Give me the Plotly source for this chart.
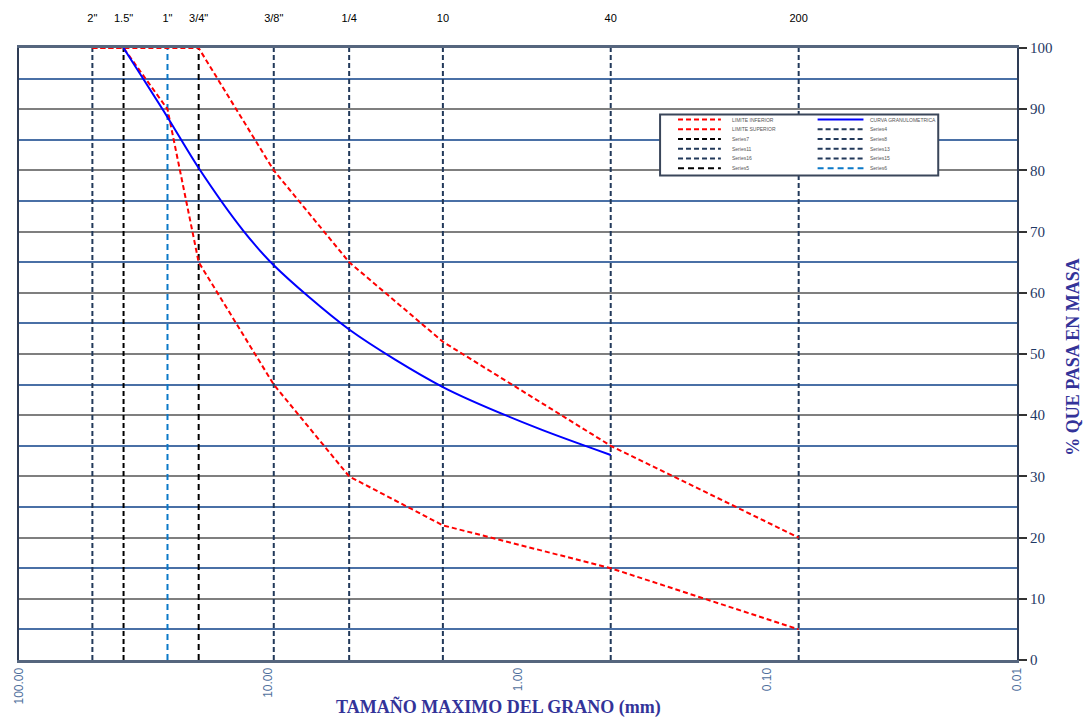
import plotly.graph_objects as go

# ---------------- data ----------------
sieve_labels = ['2"', '1.5"', '1"', '3/4"', '3/8"', '1/4', '10', '40', '200']
sieve_mm = [50.8, 38.1, 25.4, 19.05, 9.525, 4.75, 2.0, 0.425, 0.075]
sieve_series = ['Series4', 'Series7', 'Series6', 'Series5', 'Series8',
                'Series11', 'Series13', 'Series15', 'Series16']

limit_mm = [50.8, 38.1, 25.4, 19.05, 9.525, 4.75, 2.0, 0.425, 0.075]
lim_inf_pct = [100, 100, 90, 65, 45, 30, 22, 15, 5]
lim_sup_pct = [100, 100, 100, 100, 80, 65, 52, 35, 20]

curva_mm = [38.1, 25.4, 19.05, 12.7, 9.525, 4.75, 2.0, 0.85, 0.425]
curva_pct = [100, 88.7, 80.4, 70.3, 64.5, 54.0, 44.6, 38.0, 33.5]

x_tickvals = [100, 10, 1, 0.1, 0.01]
x_ticktext = ["100.00", "10.00", "1.00", "0.10", "0.01"]

# ---------------- styles ----------------
NAVY = "#22395A"
RED = "#FF0000"
sieve_colors = {'Series4': NAVY, 'Series7': "#000000", 'Series6': "#0A78C8",
                'Series5': "#000000", 'Series8': NAVY, 'Series11': NAVY,
                'Series13': NAVY, 'Series15': NAVY, 'Series16': NAVY}
sieve_dash = {'Series5': "6px,4px", 'Series7': "5px,3px", 'Series6': "6px,4px"}

fig = go.Figure()

# vertical sieve lines
for mm, name in zip(sieve_mm, sieve_series):
    fig.add_trace(go.Scatter(
        x=[mm, mm], y=[0, 100], mode="lines", name=name,
        line=dict(color=sieve_colors[name], width=2,
                  dash=sieve_dash.get(name, "5px,3px")),
        showlegend=False, hoverinfo="skip"))

fig.add_trace(go.Scatter(x=limit_mm, y=lim_inf_pct, mode="lines", name="LIMITE INFERIOR",
                         line=dict(color=RED, width=2, dash="5px,3px"), showlegend=False))
fig.add_trace(go.Scatter(x=limit_mm, y=lim_sup_pct, mode="lines", name="LIMITE SUPERIOR",
                         line=dict(color=RED, width=2, dash="5px,3px"), showlegend=False))
fig.add_trace(go.Scatter(x=curva_mm, y=curva_pct, mode="lines", name="CURVA GRANULOMETRICA",
                         line=dict(color="#0000FF", width=2, shape="spline", smoothing=0.8),
                         showlegend=False))

# top sieve labels axis (dummy invisible trace on x2)
fig.add_trace(go.Scatter(x=[sieve_mm[0]], y=[None], xaxis="x2", mode="lines",
                         showlegend=False, hoverinfo="skip"))

# ---------------- layout ----------------
L, R, T, B = 16, 72, 48, 62
W, H = 1089, 722
pw, ph = W - L - R, H - T - B

fig.update_layout(
    width=W, height=H,
    margin=dict(l=L, r=R, t=T, b=B, pad=0),
    paper_bgcolor="white", plot_bgcolor="white",
    showlegend=False,
    xaxis=dict(type="log", range=[2, -2], tickmode="array",
               tickvals=x_tickvals, ticktext=x_ticktext, tickangle=-90,
               tickfont=dict(family="Liberation Sans, Arial", size=12, color="#4F6F9C"),
               showgrid=False, zeroline=False, ticks="",
               showline=True, linecolor="#56667E", linewidth=3, mirror=True),
    xaxis2=dict(type="log", range=[2, -2], overlaying="x", side="top", anchor="y",
                tickmode="array", tickvals=sieve_mm, ticktext=sieve_labels,
                tickfont=dict(family="Liberation Sans, Arial", size=11, color="#000000"),
                ticklabelstandoff=23, ticks="", showgrid=False, showline=False,
                zeroline=False),
    yaxis=dict(range=[0, 100], side="right", dtick=10, tick0=0,
               tickfont=dict(family="Liberation Serif, Times New Roman", size=15, color="#1F3864"),
               ticks="outside", ticklen=8, tickwidth=1.5, tickcolor="#333333",
               showgrid=True, gridcolor="#7F7F7F", gridwidth=1.5,
               minor=dict(dtick=5, tick0=0, showgrid=True, gridcolor="#4A70A6",
                          gridwidth=2, ticks=""),
               zeroline=False,
               showline=True, linecolor="#2E3C55", linewidth=2, mirror=True),
)

# axis titles
fig.add_annotation(text="<b>TAMAÑO MAXIMO DEL GRANO (mm)</b>", xref="paper", yref="paper",
                   x=(497 - L) / pw, y=-(707 - (T + ph)) / ph, showarrow=False,
                   xanchor="center", yanchor="middle",
                   font=dict(family="Liberation Serif, Times New Roman", size=18, color="#333399"))
fig.add_annotation(text="<b>% QUE PASA EN MASA</b>", xref="paper", yref="paper",
                   x=1 + (1073 - (L + pw)) / pw, y=0.5 - (357 - (T + ph / 2)) / ph,
                   textangle=-90, showarrow=False, xanchor="center", yanchor="middle",
                   font=dict(family="Liberation Serif, Times New Roman", size=18, color="#333399"))

# ---------------- manual legend (built from the traces' styles) ----------------
def px_x(p):
    return (p - L) / pw

def px_y(p):
    return (T + ph - p) / ph

legend_left = ["LIMITE INFERIOR", "LIMITE SUPERIOR", "Series7", "Series11", "Series16", "Series5"]
legend_right = ["CURVA GRANULOMETRICA", "Series4", "Series8", "Series13", "Series15", "Series6"]
row_y = [119.5, 129.3, 139, 148.7, 158.4, 168.2]
trace_by_name = {t.name: t for t in fig.data if t.name}

fig.add_shape(type="rect", xref="paper", yref="paper",
              x0=px_x(659), x1=px_x(938), y0=px_y(175.5), y1=px_y(114.5),
              line=dict(color="#3A465A", width=2), fillcolor="white", layer="above")

for col, names, sx0, sx1, tx in [(0, legend_left, 677, 720, 729),
                                  (1, legend_right, 817, 863, 868)]:
    for name, yy in zip(names, row_y):
        tr = trace_by_name[name]
        fig.add_shape(type="line", xref="paper", yref="paper",
                      x0=px_x(sx0), x1=px_x(sx1), y0=px_y(yy), y1=px_y(yy),
                      line=dict(color=tr.line.color, width=2,
                                dash=tr.line.dash if tr.line.dash else "solid"),
                      layer="above")
        fig.add_annotation(text=name, xref="paper", yref="paper",
                           x=px_x(tx), y=px_y(yy), xanchor="left", yanchor="middle",
                           showarrow=False,
                           font=dict(family="Liberation Sans, Arial", size=5, color="#555555"))

fig.write_html("out.html")
